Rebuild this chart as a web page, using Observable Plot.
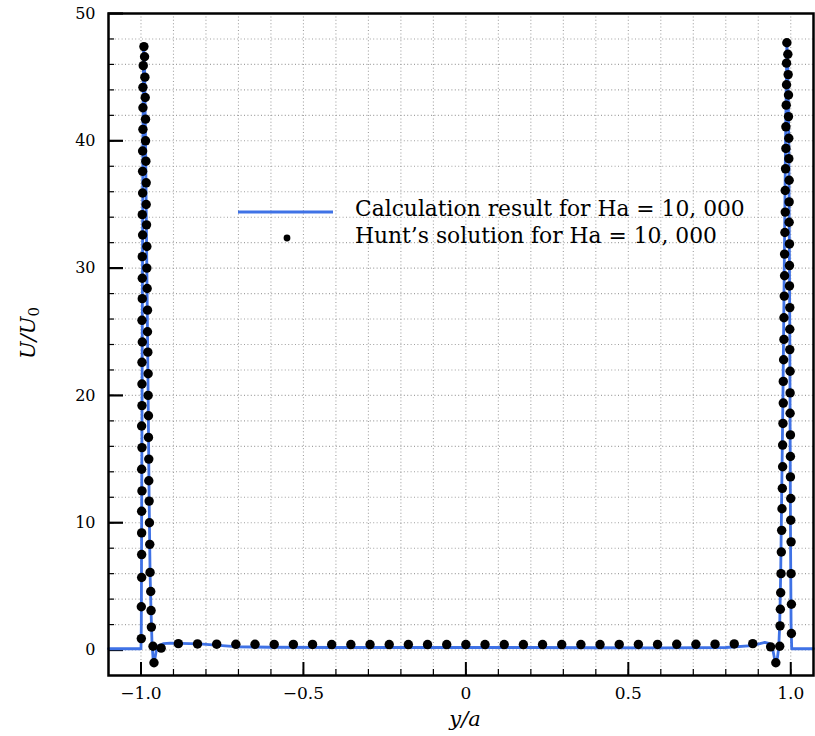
<!DOCTYPE html>
<html>
<head>
<meta charset="utf-8">
<script src="https://cdn.jsdelivr.net/npm/d3@7"></script>
<script src="https://cdn.jsdelivr.net/npm/@observablehq/plot@0.6"></script>
<style>
  body { margin: 0; background: #fff; }
  #chart { width: 815px; height: 736px; }
</style>
</head>
<body>
<div id="chart"></div>
<script>
// ---- Calculation result (blue line) ----
const calcX = [-1.1, -1.0, -0.999, -0.998, -0.996, -0.994, -0.992, -0.989, -0.986, -0.982, -0.978, -0.975, -0.972, -0.969, -0.966, -0.963, -0.960, -0.956, -0.952, -0.945, -0.93, -0.91, -0.88, -0.82, -0.71, -0.6, -0.4, -0.2, 0, 0.2, 0.4, 0.6, 0.8, 0.88, 0.905, 0.92, 0.935, 0.945, 0.951, 0.955, 0.959, 0.963, 0.966, 0.969, 0.972, 0.976, 0.980, 0.984, 0.988, 0.991, 0.994, 0.997, 0.999, 1.001, 1.003, 1.07];
const calcY = [0.1, 0.1, 2, 10, 25, 40, 47.5, 46, 40, 30, 20, 12, 6, 3, 0.5, -0.6, -1.0, -0.5, 0.1, 0.35, 0.5, 0.55, 0.52, 0.48, 0.26, 0.22, 0.2, 0.2, 0.2, 0.2, 0.18, 0.17, 0.2, 0.35, 0.5, 0.6, 0.5, 0.0, -0.8, -1.0, -0.6, 0.2, 2, 6, 12, 20, 30, 40, 47.7, 46, 40, 25, 10, 2, 0.1, 0.1];

// ---- Hunt's solution (black dots) ----
const huntLeftWall = [
  [-0.999, 0.9], [-0.999, 3.4], [-0.998, 5.7], [-0.998, 7.5], [-0.998, 9.2], [-0.998, 10.9], [-0.997, 12.5], [-0.998, 14.2], [-0.997, 15.9], [-0.998, 17.6], [-0.997, 19.2], [-0.997, 20.9], [-0.997, 22.6], [-0.996, 24.2], [-0.997, 25.9], [-0.996, 27.6], [-0.996, 29.2], [-0.996, 30.9], [-0.995, 32.6], [-0.996, 34.2], [-0.995, 35.9], [-0.995, 37.6], [-0.995, 39.2], [-0.994, 40.9], [-0.994, 42.6], [-0.994, 44.2], [-0.993, 45.9],
  [-0.963, 0.3], [-0.968, 1.8], [-0.969, 3.1], [-0.970, 4.6], [-0.972, 6.1], [-0.973, 8.3], [-0.974, 10.0], [-0.975, 11.7], [-0.976, 13.3], [-0.976, 15.0], [-0.977, 16.7], [-0.977, 18.4], [-0.978, 20.0], [-0.978, 21.7], [-0.979, 23.4], [-0.980, 25.0], [-0.980, 26.7], [-0.981, 28.4], [-0.982, 30.0], [-0.982, 31.7], [-0.983, 33.4], [-0.984, 35.0], [-0.984, 36.7], [-0.985, 38.4], [-0.986, 40.0], [-0.986, 41.7], [-0.987, 43.4], [-0.988, 45.0], [-0.989, 46.6], [-0.991, 47.4],
  [-0.960, -1.0], [-0.938, 0.15]
];
const huntCoreX = [-0.885, -0.826, -0.767, -0.708, -0.649, -0.590, -0.531, -0.472, -0.413, -0.354, -0.295, -0.236, -0.177, -0.118, -0.059, 0.000, 0.059, 0.118, 0.177, 0.236, 0.295, 0.354, 0.413, 0.472, 0.531, 0.590, 0.649, 0.708, 0.767, 0.826, 0.883];
const huntCoreY = [0.5, 0.48, 0.46, 0.45, 0.45, 0.44, 0.44, 0.44, 0.43, 0.43, 0.43, 0.43, 0.43, 0.43, 0.43, 0.43, 0.43, 0.43, 0.43, 0.43, 0.43, 0.43, 0.43, 0.44, 0.44, 0.44, 0.45, 0.45, 0.46, 0.48, 0.5];
const huntRightWall = [
  [0.938, 0.25], [0.954, -1.0],
  [0.966, 0.3], [0.967, 1.9], [0.968, 3.2], [0.969, 4.5], [0.970, 6.0], [0.971, 7.7], [0.972, 9.4], [0.973, 11.1], [0.974, 12.7], [0.975, 14.4], [0.975, 16.1], [0.976, 17.8], [0.977, 19.4], [0.977, 21.1], [0.978, 22.8], [0.979, 24.4], [0.979, 26.1], [0.980, 27.8], [0.981, 29.4], [0.981, 31.1], [0.982, 32.8], [0.983, 34.4], [0.983, 36.1], [0.984, 37.8], [0.985, 39.4], [0.985, 41.1], [0.986, 42.8], [0.987, 44.4], [0.987, 46.1], [0.988, 47.7],
  [1.002, 1.3], [1.002, 3.6], [1.001, 6.0], [1.001, 8.5], [1.000, 10.2], [1.000, 11.9], [0.999, 13.6], [0.999, 15.2], [0.999, 16.9], [0.998, 18.6], [0.998, 20.2], [0.998, 21.9], [0.997, 23.6], [0.997, 25.2], [0.997, 26.9], [0.996, 28.6], [0.996, 30.2], [0.996, 31.9], [0.995, 33.6], [0.995, 35.2], [0.995, 36.9], [0.994, 38.6], [0.994, 40.2], [0.993, 41.9], [0.993, 43.6], [0.992, 45.2], [0.991, 46.8]
];

// ---- Ticks & labels ----
const xTickValues = [-1, -0.5, 0, 0.5, 1];
const xTickLabels = ["−1.0", "−0.5", "0", "0.5", "1.0"];
const yTickValues = [0, 10, 20, 30, 40, 50];
const yTickLabels = ["0", "10", "20", "30", "40", "50"];
const xMinor = [-1, -0.9, -0.8, -0.7, -0.6, -0.5, -0.4, -0.3, -0.2, -0.1, 0, 0.1, 0.2, 0.3, 0.4, 0.5, 0.6, 0.7, 0.8, 0.9, 1];
const yMinor = [0, 2, 4, 6, 8, 10, 12, 14, 16, 18, 20, 22, 24, 26, 28, 30, 32, 34, 36, 38, 40, 42, 44, 46, 48];
const legendLabels = ["Calculation result for Ha = 10, 000", "Hunt’s solution for Ha = 10, 000"];
const xLabel = "y/a";
const yLabelMain = "U/U";
const yLabelSub = "0";

// ---- Build tables ----
const calc = calcX.map((x, i) => ({x, y: calcY[i]}));
const hunt = [
  ...huntLeftWall.map(([x, y]) => ({x, y})),
  ...huntCoreX.map((x, i) => ({x, y: huntCoreY[i]})),
  ...huntRightWall.map(([x, y]) => ({x, y}))
];

const W = 815, H = 736, mL = 108, mR = 2, mT = 13, mB = 61;
const fw = W - mL - mR, fh = H - mT - mB;
const font = "'DejaVu Serif', serif";
const blue = "#3f72e6";
const gridStyle = {stroke: "#a0a0a0", strokeWidth: 1.1, strokeDasharray: "1,2.4"};

const plot = Plot.plot({
  width: W, height: H,
  marginLeft: mL, marginRight: mR, marginTop: mT, marginBottom: mB,
  style: {fontFamily: font, background: "white", color: "black", overflow: "visible"},
  x: {domain: [-1.1, 1.07]},
  y: {domain: [-2, 50]},
  marks: [
    Plot.ruleX(xMinor, {x: d => d, ...gridStyle}),
    Plot.ruleY(yMinor, {y: d => d, ...gridStyle}),
    Plot.tickX(xMinor, {x: d => d, insetTop: fh - 6, stroke: "black", strokeWidth: 1.2}),
    Plot.tickX(xTickValues, {x: d => d, insetTop: fh - 13, stroke: "black", strokeWidth: 2}),
    Plot.tickY(yMinor, {y: d => d, insetRight: fw - 6, stroke: "black", strokeWidth: 1.2}),
    Plot.tickY(yTickValues, {y: d => d, insetRight: fw - 15, stroke: "black", strokeWidth: 2.2}),
    Plot.axisX(xTickValues, {tickSize: 0, tickPadding: 11, fontSize: 17, label: null,
      tickFormat: d => xTickLabels[xTickValues.indexOf(d)]}),
    Plot.axisY(yTickValues, {tickSize: 0, tickPadding: 13, fontSize: 16, label: null,
      tickFormat: d => yTickLabels[yTickValues.indexOf(d)]}),
    Plot.line(calc, {x: "x", y: "y", stroke: blue, strokeWidth: 2.8}),
    Plot.dot(hunt, {x: "x", y: "y", r: 4.7, fill: "black", stroke: "none"}),
    Plot.frame({stroke: "black", strokeWidth: 2.5})
  ]
});

const svg = d3.select(plot);
// Legend
svg.append("line").attr("x1", 238).attr("x2", 333).attr("y1", 212).attr("y2", 212)
  .attr("stroke", blue).attr("stroke-width", 3.2);
svg.append("circle").attr("cx", 287).attr("cy", 238).attr("r", 3.4).attr("fill", "black");
svg.append("text").attr("x", 355).attr("y", 216).attr("text-anchor", "start")
  .attr("font-family", font).attr("font-size", 21.8)
  .attr("fill", "black").text(legendLabels[0]);
svg.append("text").attr("x", 355).attr("y", 243).attr("text-anchor", "start")
  .attr("font-family", font).attr("font-size", 21.8)
  .attr("fill", "black").text(legendLabels[1]);
// Axis titles
svg.append("text").attr("x", 465).attr("y", 726).attr("text-anchor", "middle")
  .attr("font-family", font).attr("font-style", "italic").attr("font-size", 21)
  .attr("fill", "black").text(xLabel);
const yl = svg.append("text").attr("transform", "translate(35,333) rotate(-90)")
  .attr("text-anchor", "middle").attr("font-family", font).attr("font-size", 21).attr("fill", "black");
yl.append("tspan").attr("font-style", "italic").text(yLabelMain);
yl.append("tspan").attr("font-size", 15).attr("dy", 4).text(yLabelSub);

document.getElementById("chart").appendChild(plot);
</script>
</body>
</html>
